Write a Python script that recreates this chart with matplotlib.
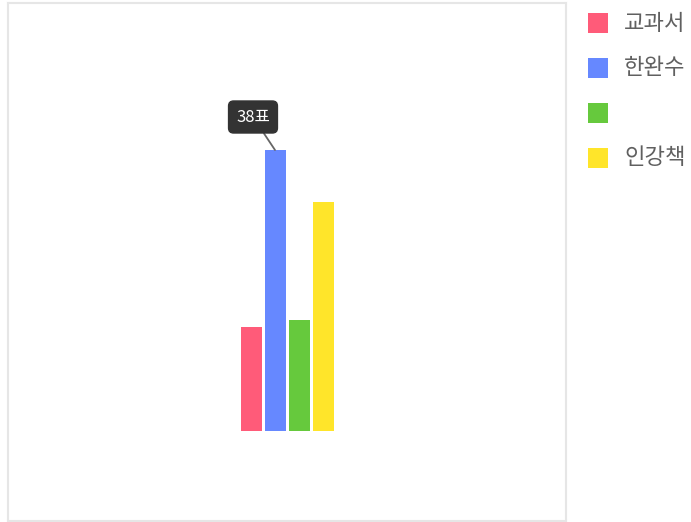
import matplotlib.pyplot as plt
from matplotlib.patches import Rectangle

plt.rcParams['font.family'] = ['Noto Sans CJK KR', 'DejaVu Sans']

labels = ['교과서', '한완수', '', '인강책']
votes = [14, 38, 15, 31]
colors = ['#ff5b79', '#6688ff', '#66c93d', '#ffe52a']
tip_index = 1

W, H = 691, 522
fig = plt.figure(figsize=(W / 100, H / 100), dpi=100)

# plot box in pixels: x 8..566, y 3..521 (from top)
ax = fig.add_axes([8 / W, 1 / H, 558 / W, 518 / H])
for s in ax.spines.values():
    s.set_color('#e6e6e6')
    s.set_linewidth(1.5)
ax.set_xticks([])
ax.set_yticks([])

pitch = 24.0  # px between bars
xs = list(range(len(votes)))
ax.bar(xs, votes, width=21 / pitch, color=colors, edgecolor='none')

half = 558 / pitch / 2
ax.set_xlim(1.5 - half, 1.5 + half)
scale = 281 / 38  # px per vote
ax.set_ylim(-90 / scale, (431 - 3) / scale)

ax.annotate(f'{votes[tip_index]}표', xy=(xs[tip_index], votes[tip_index]),
            xytext=(-22, 33), textcoords='offset pixels',
            ha='center', va='center', color='white', fontsize=12,
            bbox=dict(boxstyle='round,pad=0.45,rounding_size=0.3',
                      fc='#333333', ec='#333333'),
            arrowprops=dict(arrowstyle='-', color='#666666', lw=1.3,
                            shrinkA=0, shrinkB=0))

# legend
for i, (lab, c) in enumerate(zip(labels, colors)):
    cy = 23 + 45 * i
    fig.patches.append(Rectangle((588 / W, (H - cy - 10) / H), 20 / W, 20 / H,
                                 transform=fig.transFigure, fc=c, ec='none'))
    fig.text(624 / W, (H - cy) / H, lab, ha='left', va='center',
             fontsize=16, color='#606060')

fig.savefig('out.png', dpi=100)
